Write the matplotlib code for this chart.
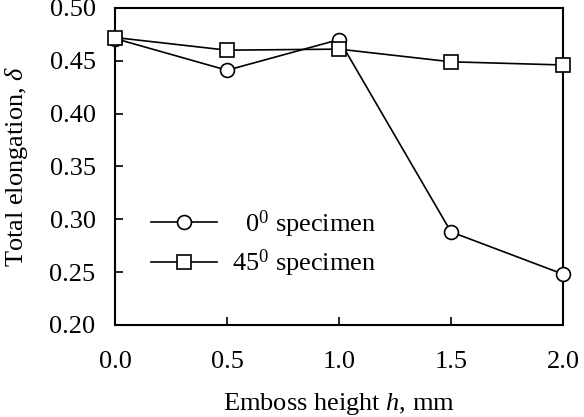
import matplotlib.pyplot as plt

plt.rcParams['font.family'] = ['Liberation Serif', 'DejaVu Serif']
plt.rcParams['mathtext.fontset'] = 'custom'
plt.rcParams['mathtext.rm'] = 'Liberation Serif'
plt.rcParams['mathtext.it'] = 'Liberation Serif:italic'

# Emboss height (mm) and total elongation
height = [0.0, 0.5, 1.0, 1.5, 2.0]
elong_0 = [0.471, 0.441, 0.470, 0.288, 0.248]
elong_45 = [0.472, 0.460, 0.461, 0.449, 0.446]

fig = plt.figure(figsize=(5.84, 4.17), dpi=100)
ax = fig.add_axes([0.197, 0.221, 0.767, 0.760])

ax.plot(height, elong_0, color="black", lw=1.2, marker="o", ms=10,
        mfc="white", mec="black", mew=1.2, clip_on=False, zorder=3,
        label="  0$^0$ specimen")
ax.plot(height, elong_45, color="black", lw=1.2, marker="s", ms=10,
        mfc="white", mec="black", mew=1.2, clip_on=False, zorder=4,
        label="45$^0$ specimen")

ax.set_xlim(0, 2.0)
ax.set_ylim(0.20, 0.50)
ax.set_xticks([0.0, 0.5, 1.0, 1.5, 2.0])
ax.set_yticks([0.20, 0.25, 0.30, 0.35, 0.40, 0.45, 0.50])
ax.xaxis.set_major_formatter(plt.FormatStrFormatter("%.1f"))
ax.yaxis.set_major_formatter(plt.FormatStrFormatter("%.2f"))
ax.tick_params(direction="in", length=6, width=1.2, labelsize=19)
ax.tick_params(axis="x", pad=19)
ax.tick_params(axis="y", pad=14)
for s in ax.spines.values():
    s.set_linewidth(1.5)

ax.set_xlabel("Emboss height $h$, mm", fontsize=19, labelpad=13)
ax.set_ylabel("Total elongation, $\\delta$", fontsize=19, labelpad=14)

ax.legend(loc="upper left", bbox_to_anchor=(0.028, 0.443), frameon=False,
          fontsize=19, handlelength=2.5, labelspacing=0.30, handletextpad=0.55)

plt.savefig("out.png", dpi=100)
